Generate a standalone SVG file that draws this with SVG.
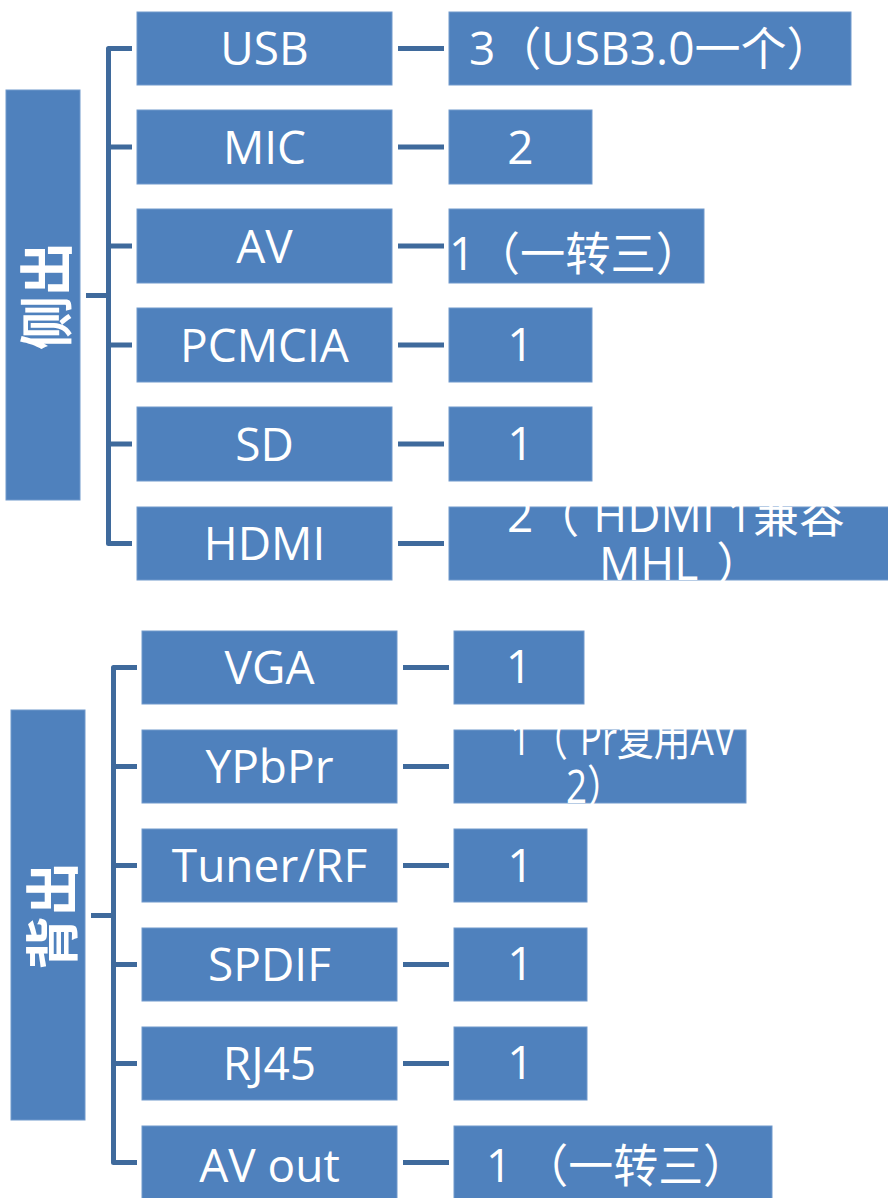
<svg xmlns="http://www.w3.org/2000/svg" width="888" height="1198" viewBox="0 0 888 1198">
  <style>
    .box { fill: #4F81BD; stroke: #7199CC; stroke-width: 1; }
    .txt { fill: #FFFFFF; font-family: "Open Sans", "Noto Sans CJK SC", sans-serif; font-size: 46px; }
    .mid { text-anchor: middle; }
    .side { fill: #FFFFFF; font-family: "Noto Sans CJK SC", sans-serif; font-size: 54px; font-weight: bold; text-anchor: middle; dominant-baseline: central; }
    .wire { fill: none; stroke: #3F6A9C; stroke-width: 5; stroke-linejoin: round; }
  </style>

  <!-- connectors -->
  <g id="connectors" class="wire">
    <!-- side group bracket -->
    <path d="M132,48.5 H108.5 V543.5 H132"/>
    <path d="M86,295.5 H108.5"/>
    <path d="M108.5,147 H132 M108.5,246 H132 M108.5,345 H132 M108.5,444 H132"/>
    <path d="M398,48.5 H444 M398,147 H444 M398,246 H444 M398,345 H444 M398,444 H444 M398,543.5 H444"/>
    <!-- back group bracket -->
    <path d="M137,667.5 H113.5 V1162.5 H137"/>
    <path d="M91,915.5 H113.5"/>
    <path d="M113.5,766.5 H137 M113.5,865.5 H137 M113.5,964.5 H137 M113.5,1063.5 H137"/>
    <path d="M403,667.5 H449 M403,766.5 H449 M403,865.5 H449 M403,964.5 H449 M403,1063.5 H449 M403,1162.5 H449"/>
  </g>

  <!-- side outputs -->
  <g id="side">
    <rect class="box" x="6" y="90" width="74" height="410"/>
    <text class="side" transform="translate(43,296) rotate(-90)">侧出</text>
  </g>
  <g id="usb">
    <rect class="box" x="137" y="12" width="255" height="73"/>
    <text class="txt mid" x="264.5" y="64.5">USB</text>
  </g>
  <g id="usb-count">
    <rect class="box" x="449" y="12" width="402" height="73"/>
    <text class="txt" x="469" y="64.5">3（USB3.0一个）</text>
  </g>
  <g id="mic">
    <rect class="box" x="137" y="110" width="255" height="74"/>
    <text class="txt mid" x="264.5" y="163.5">MIC</text>
  </g>
  <g id="mic-count">
    <rect class="box" x="449" y="110" width="143" height="74"/>
    <text class="txt mid" x="520.5" y="163.5">2</text>
  </g>
  <g id="av">
    <rect class="box" x="137" y="209" width="255" height="74"/>
    <text class="txt mid" x="264.5" y="262.5">AV</text>
  </g>
  <g id="av-count">
    <rect class="box" x="449" y="209" width="255" height="74"/>
    <text class="txt" x="449" y="270" font-size="54" textLength="252" lengthAdjust="spacingAndGlyphs">1（一转三）</text>
  </g>
  <g id="pcmcia">
    <rect class="box" x="137" y="308" width="255" height="74"/>
    <text class="txt mid" x="264.5" y="361.5">PCMCIA</text>
  </g>
  <g id="pcmcia-count">
    <rect class="box" x="449" y="308" width="143" height="74"/>
    <text class="txt mid" x="520.5" y="361" font-size="39">1</text>
  </g>
  <g id="sd">
    <rect class="box" x="137" y="407" width="255" height="74"/>
    <text class="txt mid" x="264.5" y="460.5">SD</text>
  </g>
  <g id="sd-count">
    <rect class="box" x="449" y="407" width="143" height="74"/>
    <text class="txt mid" x="520.5" y="460" font-size="39">1</text>
  </g>
  <g id="hdmi">
    <rect class="box" x="137" y="507" width="255" height="73"/>
    <text class="txt mid" x="264.5" y="560">HDMI</text>
  </g>
  <g id="hdmi-count">
    <rect class="box" x="449" y="507" width="445" height="73"/>
    <!-- two wrapped lines in one text block -->
    <text class="txt" x="507" y="532">2（<tspan dx="14">HDMI 1兼容</tspan><tspan x="599" y="580">MHL</tspan><tspan dx="18">）</tspan></text>
  </g>

  <!-- back outputs -->
  <g id="back">
    <rect class="box" x="11" y="710" width="74" height="410"/>
    <text class="side" transform="translate(49,916) rotate(-90)">背出</text>
  </g>
  <g id="vga">
    <rect class="box" x="142" y="631" width="255" height="73"/>
    <text class="txt mid" x="269.5" y="684">VGA</text>
  </g>
  <g id="vga-count">
    <rect class="box" x="454" y="631" width="130" height="73"/>
    <text class="txt mid" x="519" y="683">1</text>
  </g>
  <g id="ypbpr">
    <rect class="box" x="142" y="730" width="255" height="73"/>
    <text class="txt mid" x="269.5" y="783">YPbPr</text>
  </g>
  <g id="ypbpr-count">
    <rect class="box" x="454" y="730" width="292" height="73"/>
    <!-- narrowed, wrapped onto two lines -->
    <text class="txt" transform="translate(510,755) scale(0.8,1)" x="0" y="0" font-size="43">1（<tspan dx="15">Pr复用AV</tspan><tspan x="70" y="48">2）</tspan></text>
  </g>
  <g id="tuner">
    <rect class="box" x="142" y="829" width="255" height="73"/>
    <text class="txt mid" x="269.5" y="882">Tuner/RF</text>
  </g>
  <g id="tuner-count">
    <rect class="box" x="454" y="829" width="133" height="73"/>
    <text class="txt mid" x="520.5" y="882">1</text>
  </g>
  <g id="spdif">
    <rect class="box" x="142" y="928" width="255" height="73"/>
    <text class="txt mid" x="269.5" y="981">SPDIF</text>
  </g>
  <g id="spdif-count">
    <rect class="box" x="454" y="928" width="133" height="73"/>
    <text class="txt mid" x="520.5" y="980" font-size="39">1</text>
  </g>
  <g id="rj45">
    <rect class="box" x="142" y="1027" width="255" height="73"/>
    <text class="txt mid" x="269.5" y="1080">RJ45</text>
  </g>
  <g id="rj45-count">
    <rect class="box" x="454" y="1027" width="133" height="73"/>
    <text class="txt mid" x="520.5" y="1079" font-size="39">1</text>
  </g>
  <g id="avout">
    <rect class="box" x="142" y="1126" width="255" height="74"/>
    <text class="txt mid" x="269.5" y="1182">AV out</text>
  </g>
  <g id="avout-count">
    <rect class="box" x="454" y="1126" width="318" height="74"/>
    <text class="txt" x="486" y="1182" textLength="262" lengthAdjust="spacingAndGlyphs">1 （一转三）</text>
  </g>
</svg>
